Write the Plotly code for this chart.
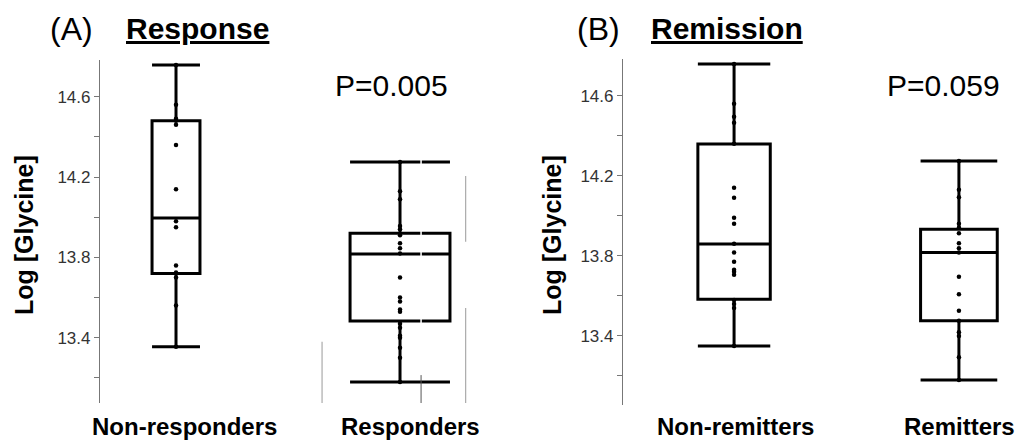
import plotly.graph_objects as go

# ---------------- data ----------------
groups_a = ["Non-responders", "Responders"]
groups_b = ["Non-remitters", "Remitters"]

non_responders = [14.758, 14.56, 14.49, 14.48, 14.46, 14.36, 14.14, 13.98, 13.95,
                  13.76, 13.725, 13.70, 13.56, 13.355]
responders = [14.275, 14.13, 14.09, 13.956, 13.94, 13.91, 13.87, 13.845, 13.82, 13.70,
              13.60, 13.58, 13.54, 13.53, 13.47, 13.45, 13.41, 13.40, 13.35, 13.30, 13.18]
non_remitters = [14.758, 14.56, 14.495, 14.465, 14.36, 14.14, 14.09, 13.99, 13.96, 13.86,
                 13.816, 13.77, 13.73, 13.72, 13.705, 13.58, 13.56, 13.54, 13.35]
remitters = [14.274, 14.13, 14.093, 13.96, 13.94, 13.913, 13.863, 13.838, 13.816, 13.696,
             13.608, 13.526, 13.476, 13.418, 13.40, 13.294, 13.18]

# box statistics (q1, median, q3, lower whisker, upper whisker)
stats_a = {
    "Non-responders": (13.72, 13.996, 14.48, 13.355, 14.758),
    "Responders": (13.483, 13.817, 13.92, 13.18, 14.275),
}
stats_b = {
    "Non-remitters": (13.583, 13.859, 14.359, 13.35, 14.758),
    "Remitters": (13.476, 13.816, 13.933, 13.18, 14.274),
}
box_widths_a = [0.214, 0.446]
box_widths_b = [0.322, 0.341]

p_values = ["P=0.005", "P=0.059"]
panel_letters = ["(A)", "(B)"]
panel_titles = ["Response", "Remission"]
y_title = "Log [Glycine]"
y_tickvals = [13.2, 13.4, 13.6, 13.8, 14.0, 14.2, 14.4, 14.6]
y_ticktext = ["", "13.4", "", "13.8", "", "14.2", "", "14.6"]

FONT = "Liberation Sans, Arial, sans-serif"

# page body has an 8px default margin: lay out in page pixels minus that offset
OFF = 8
W, H = 1023 - OFF, 445 - OFF


def fx(p):
    return (p - OFF) / W


def fy(p):
    return 1 - (p - OFF) / H


fig = go.Figure()


def add_panel(groups, stats, widths, points, xa, ya):
    for i, g in enumerate(groups):
        q1, med, q3, lo, hi = stats[g]
        pos = i + 1
        fig.add_trace(go.Box(
            x=[pos], q1=[q1], median=[med], q3=[q3], lowerfence=[lo], upperfence=[hi],
            width=widths[i], whiskerwidth=1, boxpoints=False,
            fillcolor="white", line=dict(color="black", width=3),
            xaxis=xa, yaxis=ya, showlegend=False, hoverinfo="skip"))
        fig.add_trace(go.Scatter(
            x=[pos] * len(points[i]), y=points[i], mode="markers",
            marker=dict(color="black", size=4.5),
            xaxis=xa, yaxis=ya, showlegend=False))


add_panel(groups_a, stats_a, box_widths_a, [non_responders, responders], "x", "y")
add_panel(groups_b, stats_b, box_widths_b, [non_remitters, remitters], "x2", "y2")

yaxis_common = dict(
    tickvals=y_tickvals, ticktext=y_ticktext, ticks="outside", ticklen=5, tickwidth=1,
    tickcolor="#777", showline=True, linecolor="#777", linewidth=1.2,
    showgrid=False, zeroline=False, automargin=False,
    tickfont=dict(family=FONT, size=17, color="#333"),
)
xaxis_common = dict(
    showline=False, showgrid=False, zeroline=False, ticks="", automargin=False,
    showticklabels=False,
)

fig.update_layout(
    width=W, height=H, margin=dict(l=0, r=0, t=0, b=0, autoexpand=False),
    paper_bgcolor="white", plot_bgcolor="white",
    xaxis=dict(domain=[fx(100), fx(510)], range=[0.6607, 2.491], **xaxis_common),
    yaxis=dict(domain=[fy(403), fy(60)], range=[13.075, 14.783],
               anchor="x", **yaxis_common),
    xaxis2=dict(domain=[fx(623), 1.0], range=[0.506, 2.285], anchor="y2", **xaxis_common),
    yaxis2=dict(domain=[fy(405), fy(59)], range=[13.055, 14.783],
                anchor="x2", **yaxis_common),
)

annotations = []
# category labels under the boxes
for groups, xr, shifts in [(groups_a, "x", [8, 10]), (groups_b, "x2", [1, 1])]:
    for i, g in enumerate(groups):
        annotations.append(dict(
            text=f"<b>{g}</b>", x=i + 1, xref=xr, y=fy(426), yref="paper",
            xshift=shifts[i], showarrow=False, xanchor="center", yanchor="middle",
            font=dict(family=FONT, size=24, color="black")))
# y titles
for xc in [24, 552]:
    annotations.append(dict(
        text=f"<b>{y_title}</b>", textangle=-90, x=fx(xc), y=fy(235),
        xref="paper", yref="paper", showarrow=False, xanchor="center", yanchor="middle",
        font=dict(family=FONT, size=25, color="black")))
# panel letters and titles
for letter, title, lx, tx in zip(panel_letters, panel_titles, [72, 598], [197, 727]):
    annotations.append(dict(
        text=letter, x=fx(lx), y=fy(29), xref="paper", yref="paper",
        showarrow=False, xanchor="center", yanchor="middle",
        font=dict(family=FONT, size=32, color="black")))
    annotations.append(dict(
        text=f"<b><u>{title}</u></b>", x=fx(tx), y=fy(29), xref="paper", yref="paper",
        showarrow=False, xanchor="center", yanchor="middle",
        font=dict(family=FONT, size=30, color="black")))
# p-values
for pv, px in zip(p_values, [391, 943]):
    annotations.append(dict(
        text=pv, x=fx(px), y=fy(85), xref="paper", yref="paper",
        showarrow=False, xanchor="center", yanchor="middle",
        font=dict(family=FONT, size=30, color="black")))
fig.update_layout(annotations=annotations)

# scanning artefacts visible in panel A
shapes = [
    dict(type="line", xref="x", yref="y", x0=1.652, x1=1.652, y0=13.07, y1=13.38,
         line=dict(color="#aaa", width=1.2)),
    dict(type="line", xref="x", yref="y", x0=2.293, x1=2.293, y0=13.878, y1=14.205,
         line=dict(color="#aaa", width=1.2)),
    dict(type="line", xref="x", yref="y", x0=2.293, x1=2.293, y0=13.07, y1=13.548,
         line=dict(color="#aaa", width=1.2)),
    dict(type="line", xref="x", yref="y", x0=2.094, x1=2.094, y0=13.28, y1=14.3,
         line=dict(color="white", width=1.5), layer="above"),
    dict(type="line", xref="x", yref="y", x0=2.094, x1=2.094, y0=13.07, y1=13.214,
         line=dict(color="#555", width=1), layer="above"),
]
fig.update_layout(shapes=shapes)

fig.write_html("out.html")
